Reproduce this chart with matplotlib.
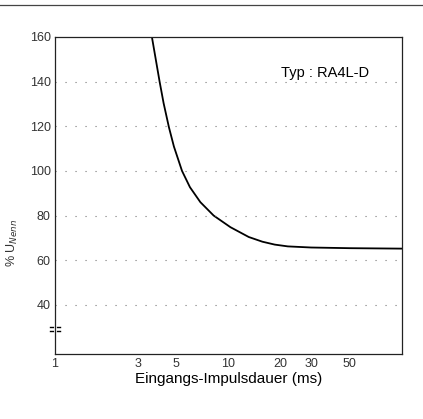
import numpy as np
import matplotlib
matplotlib.use("Agg")
import matplotlib.pyplot as plt
from matplotlib.lines import Line2D

# curve: pulse duration (ms) vs % U_Nenn
duration = [3.62, 4.01, 4.23, 4.54, 4.85, 5.40, 6.0, 6.89, 8.22,
            10.27, 13.1, 15.7, 18.5, 22, 30, 50, 100]
percent = [160, 140, 130.3, 119.5, 110.9, 100, 92.7, 86.0, 80,
           74.8, 70.4, 68.3, 67.0, 66.2, 65.7, 65.4, 65.2]

y_ticks = [40, 60, 80, 100, 120, 140, 160]
x_ticks = [1, 3, 5, 10, 20, 30, 50]
x_labels = ["1", "3", "5", "10", "20", "30", "50"]

plt.rcParams["font.family"] = ["Liberation Sans", "DejaVu Sans"]

fig = plt.figure(figsize=(4.23, 4.19), dpi=100)
ax = fig.add_axes([0.130, 0.155, 0.820, 0.757])

ax.plot(duration, percent, color="black", lw=1.3, solid_joinstyle="round")

ax.set_xscale("log")
ax.set_xlim(1, 100)
ax.set_ylim(18, 160)

ax.set_yticks(y_ticks)
ax.set_yticklabels([str(v) for v in y_ticks], fontsize=9, color="#333333")
ax.set_xticks(x_ticks)
ax.set_xticklabels(x_labels, fontsize=9, color="#333333")
ax.xaxis.set_minor_locator(plt.NullLocator())
ax.tick_params(axis="both", length=0, pad=3)

for v in y_ticks[:-1]:
    ax.axhline(v, color="#777777", lw=0.8, linestyle=(0, (1, 8)))

for s in ax.spines.values():
    s.set_linewidth(0.9)
    s.set_color("#222222")

# axis break on the left spine
for yb in (30.1, 28.3):
    ax.plot([-0.015, 0.015], [yb, yb], color="black", lw=1.0,
            transform=ax.get_yaxis_transform(), clip_on=False)
ax.plot([0, 0], [28.5, 29.9], color="white", lw=2,
        transform=ax.get_yaxis_transform(), clip_on=False)

ax.set_xlabel("Eingangs-Impulsdauer (ms)", fontsize=11, labelpad=1)
ax.set_ylabel("% U$_{Nenn}$", fontsize=9, color="#333333")
ax.yaxis.set_label_coords(-0.10, 0.35)

ax.text(0.78, 0.885, "Typ : RA4L-D", transform=ax.transAxes,
        fontsize=10.5, ha="center", va="center")

# scan edge line at the top of the page
fig.add_artist(Line2D([0.0, 1.0], [0.988, 0.988], color="#444444", lw=0.9))

fig.savefig("out.png", dpi=100, facecolor="white")
